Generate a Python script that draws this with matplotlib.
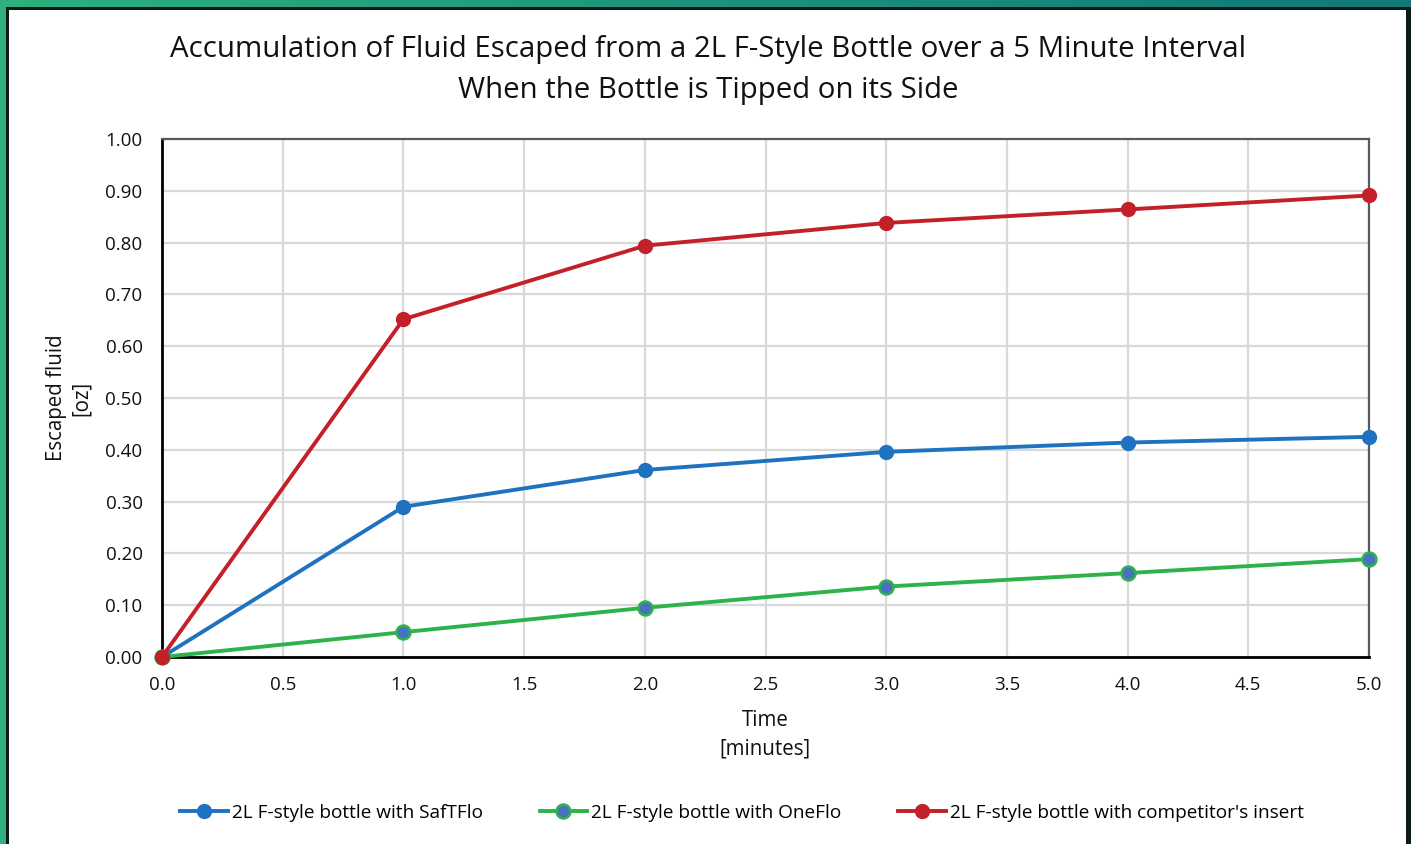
import numpy as np
import matplotlib.pyplot as plt
from matplotlib.patches import Rectangle
from matplotlib.colors import LinearSegmentedColormap

time_min = [0.0, 1.0, 2.0, 3.0, 4.0, 5.0]
saftflo = [0.0, 0.290, 0.361, 0.396, 0.414, 0.425]
oneflo = [0.0, 0.048, 0.095, 0.136, 0.162, 0.189]
competitor = [0.0, 0.652, 0.794, 0.838, 0.864, 0.891]

labels = ["2L F-style bottle with SafTFlo",
          "2L F-style bottle with OneFlo",
          "2L F-style bottle with competitor's insert"]

plt.rcParams['font.family'] = ['Open Sans', 'DejaVu Sans']

W, H = 1411, 844
fig = plt.figure(figsize=(W / 100, H / 100), dpi=100)

# frame: green-teal gradient, black border, white panel
bg = fig.add_axes([0, 0, 1, 1], zorder=-5)
bg.set_xlim(0, W)
bg.set_ylim(H, 0)
bg.axis('off')
cmap = LinearSegmentedColormap.from_list('frame', ['#2fb07e', '#1d937b', '#127878'])
grad = np.linspace(0, 1, 256).reshape(1, -1)
bg.imshow(grad, cmap=cmap, extent=[0, W, H, 0], aspect='auto')
bg.add_patch(Rectangle((6, 7), W, H, facecolor='#0c1a18', edgecolor='none'))
bg.add_patch(Rectangle((9, 10), 1397, H, facecolor='white', edgecolor='none'))

ax = fig.add_axes([162 / W, 1 - 657 / H, (1369 - 162) / W, (657 - 139) / H])

ax.plot(time_min, saftflo, color='#1f72bf', lw=2.8, marker='o', ms=10,
        mfc='#1f72bf', mec='#1f72bf', label=labels[0], zorder=3, clip_on=False)
ax.plot(time_min, oneflo, color='#2db34a', lw=2.8, marker='o', ms=10,
        mfc='#4a70c0', mec='#2db34a', mew=1.8, label=labels[1], zorder=3, clip_on=False)
ax.plot(time_min, competitor, color='#c3202a', lw=2.8, marker='o', ms=10,
        mfc='#c3202a', mec='#c3202a', label=labels[2], zorder=4, clip_on=False)

ax.set_xlim(0, 5)
ax.set_ylim(0, 1)
ax.set_xticks(np.arange(0, 5.01, 0.5))
ax.set_yticks(np.arange(0, 1.001, 0.1))
ax.set_xticklabels([f"{v:.1f}" for v in np.arange(0, 5.01, 0.5)])
ax.set_yticklabels([f"{v:.2f}" for v in np.arange(0, 1.001, 0.1)])
ax.tick_params(length=0, labelsize=13.5, colors='#111111')
ax.tick_params(axis='x', pad=14)
ax.tick_params(axis='y', pad=14)
ax.grid(True, color='#d9d9d9', lw=1.6, zorder=0)
ax.set_axisbelow(True)

for side in ['left', 'bottom']:
    ax.spines[side].set_color('black')
    ax.spines[side].set_linewidth(2.0)
for side in ['top', 'right']:
    ax.spines[side].set_color('#595959')
    ax.spines[side].set_linewidth(1.6)

fig.text(708 / W, 1 - 70 / H,
         "Accumulation of Fluid Escaped from a 2L F-Style Bottle over a 5 Minute Interval\n"
         "When the Bottle is Tipped on its Side",
         ha='center', va='center', fontsize=21.2, color='#111111', linespacing=1.55)

fig.text(69 / W, 1 - 398 / H, "Escaped fluid\n[oz]", rotation=90,
         ha='center', va='center', fontsize=14.8, color='#111111', linespacing=1.25)
fig.text(765 / W, 1 - 735 / H, "Time\n[minutes]",
         ha='center', va='center', fontsize=14.8, color='#111111', linespacing=1.45)

fig.legend(loc='center', bbox_to_anchor=(742 / W, 1 - 813 / H), ncol=3, frameon=False,
           fontsize=13.7, handlelength=2.5, columnspacing=3.0, handletextpad=0.2)

fig.savefig('out.png', dpi=100)
